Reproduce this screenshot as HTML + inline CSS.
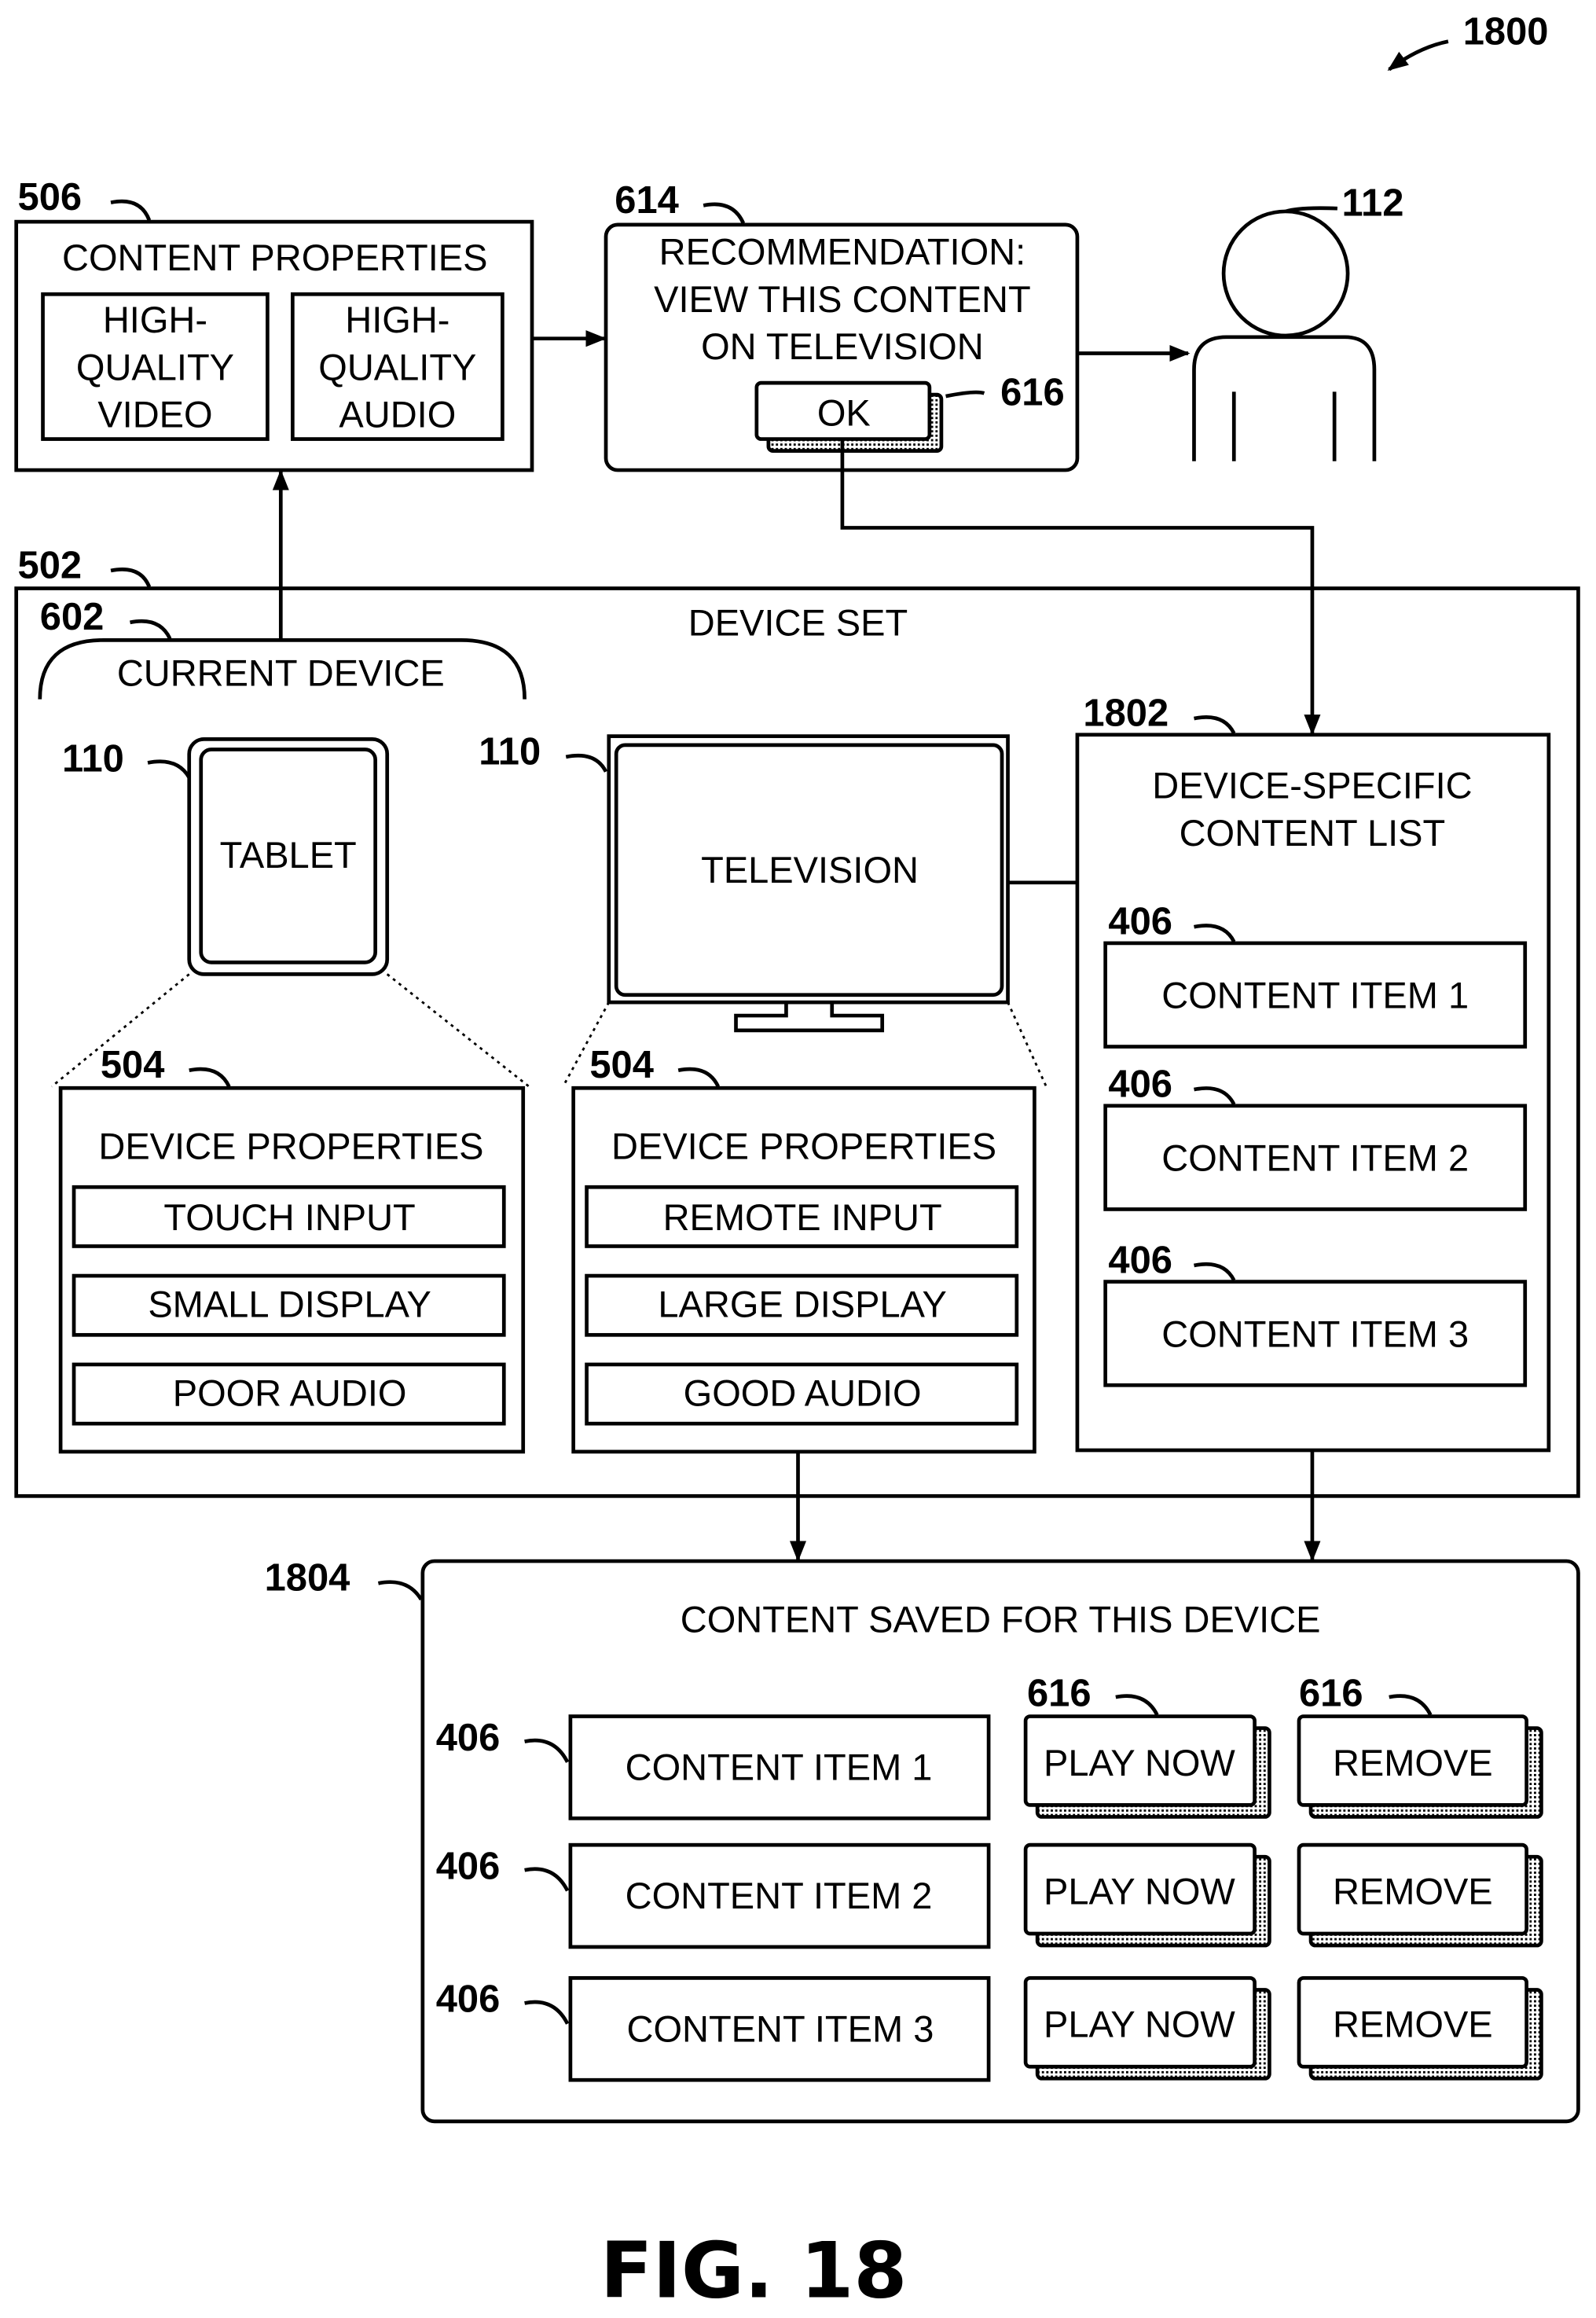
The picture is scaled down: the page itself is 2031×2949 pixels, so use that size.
<!DOCTYPE html>
<html><head><meta charset="utf-8"><style>html,body{margin:0;padding:0;background:#fff}svg{display:block}</style></head><body>
<svg width="2031" height="2949" viewBox="0 0 1080 1568" preserveAspectRatio="none" xmlns="http://www.w3.org/2000/svg" font-family="'Liberation Sans', 'DejaVu Sans', sans-serif">
<defs>
<marker id="ah" viewBox="0 0 10 10" refX="9" refY="5" markerWidth="14" markerHeight="14" markerUnits="userSpaceOnUse" orient="auto"><path d="M0,1 L10,5 L0,9 Z" fill="#000"/></marker>
<pattern id="dots" width="3" height="3" patternUnits="userSpaceOnUse"><rect width="3" height="3" fill="#fff"/><rect width="1.5" height="1.5" fill="#000"/></pattern>
</defs>
<g fill="none" stroke="#000" stroke-width="2.5">
<path d="M980,28 Q960,32 940,47" marker-end="url(#ah)"/>
<rect x="11" y="150" width="349" height="168"/>
<rect x="29" y="199" width="152" height="98"/>
<rect x="198" y="199" width="142" height="98"/>
<path d="M75,137 Q95,133 101,149"/>
<line x1="360" y1="229" x2="409" y2="229" marker-end="url(#ah)"/>
<rect x="410" y="152" width="319" height="166" rx="8"/>
<path d="M476,139 Q496,135 503,151"/>
<rect x="520" y="267" width="117" height="38" rx="3" fill="url(#dots)"/>
<rect x="512" y="259" width="117" height="38" rx="3" fill="#fff"/>
<path d="M640,268 Q660,264 666,266"/>
<line x1="729" y1="239" x2="804" y2="239" marker-end="url(#ah)"/>
<circle cx="870" cy="185" r="42"/>
<path d="M808,312 L808,250 Q808,228 830,228 L910,228 Q930,228 930,250 L930,312"/>
<path d="M835,312 L835,265 M903,312 L903,265"/>
<path d="M870,143 Q880,140 905,141"/>
<path d="M570,297 L570,357 L888,357 L888,496" marker-end="url(#ah)"/>
<line x1="190" y1="432" x2="190" y2="319" marker-end="url(#ah)"/>
<rect x="11" y="398" width="1057" height="614"/>
<path d="M75,386 Q95,382 101,397"/>
<path d="M88,421 Q108,417 115,432"/>
<path d="M27,473 Q27,433 70,433 L312,433 Q355,433 355,473"/>
<rect x="128" y="500" width="134" height="159" rx="10"/>
<rect x="136" y="507" width="118" height="144" rx="7"/>
<path d="M100,516 Q120,512 128,526"/>
<rect x="412" y="498" width="270" height="180"/>
<rect x="417" y="504" width="261" height="169" rx="6"/>
<path d="M532,678 L532,687 L498,687 L498,697 L597,697 L597,687 L563,687 L563,678"/>
<path d="M383,512 Q403,508 410,522"/>
<line x1="682" y1="597" x2="729" y2="597"/>
<rect x="729" y="497" width="319" height="484"/>
<path d="M808,486 Q828,482 835,496"/>
<rect x="748" y="638" width="284" height="70"/>
<rect x="748" y="748" width="284" height="70"/>
<rect x="748" y="867" width="284" height="70"/>
<path d="M808,627 Q828,623 835,637"/>
<path d="M808,737 Q828,733 835,747"/>
<path d="M808,856 Q828,852 835,866"/>
<g stroke-dasharray="2,3" stroke-width="1.5">
<line x1="128" y1="659" x2="35" y2="735"/><line x1="262" y1="659" x2="358" y2="735"/>
<line x1="412" y1="678" x2="381" y2="735"/><line x1="682" y1="678" x2="708" y2="735"/>
</g>
<rect x="41" y="736" width="313" height="246"/>
<rect x="388" y="736" width="312" height="246"/>
<path d="M128,724 Q148,720 155,735"/>
<path d="M459,724 Q479,720 486,735"/>
<rect x="50" y="803" width="291" height="40"/><rect x="50" y="863" width="291" height="40"/><rect x="50" y="923" width="291" height="40"/>
<rect x="397" y="803" width="291" height="40"/><rect x="397" y="863" width="291" height="40"/><rect x="397" y="923" width="291" height="40"/>
<line x1="540" y1="982" x2="540" y2="1055" marker-end="url(#ah)"/>
<line x1="888" y1="981" x2="888" y2="1055" marker-end="url(#ah)"/>
<rect x="286" y="1056" width="782" height="379" rx="8"/>
<path d="M256,1071 Q276,1067 285,1082"/>
<rect x="386" y="1161" width="283" height="69"/>
<rect x="386" y="1248" width="283" height="69"/>
<rect x="386" y="1338" width="283" height="69"/>
<path d="M355,1178 Q375,1174 384,1192"/>
<path d="M355,1265 Q375,1261 384,1279"/>
<path d="M355,1355 Q375,1351 384,1369"/>
<g>
<rect x="702" y="1169" width="157" height="60" rx="3" fill="url(#dots)"/><rect x="694" y="1161" width="155" height="60" rx="3" fill="#fff"/>
<rect x="887" y="1169" width="156" height="60" rx="3" fill="url(#dots)"/><rect x="879" y="1161" width="154" height="60" rx="3" fill="#fff"/>
<rect x="702" y="1256" width="157" height="60" rx="3" fill="url(#dots)"/><rect x="694" y="1248" width="155" height="60" rx="3" fill="#fff"/>
<rect x="887" y="1256" width="156" height="60" rx="3" fill="url(#dots)"/><rect x="879" y="1248" width="154" height="60" rx="3" fill="#fff"/>
<rect x="702" y="1346" width="157" height="60" rx="3" fill="url(#dots)"/><rect x="694" y="1338" width="155" height="60" rx="3" fill="#fff"/>
<rect x="887" y="1346" width="156" height="60" rx="3" fill="url(#dots)"/><rect x="879" y="1338" width="154" height="60" rx="3" fill="#fff"/>
</g>
<path d="M755,1148 Q775,1144 783,1160"/>
<path d="M940,1148 Q960,1144 968,1160"/>
</g>
<g font-weight="bold" font-size="26" fill="#000">
<text x="990" y="30">1800</text>
<text x="12" y="142">506</text>
<text x="416" y="144">614</text>
<text x="677" y="274">616</text>
<text x="908" y="146">112</text>
<text x="12" y="391">502</text>
<text x="27" y="426">602</text>
<text x="42" y="522">110</text>
<text x="324" y="517">110</text>
<text x="733" y="491">1802</text>
<text x="750" y="632">406</text>
<text x="750" y="742">406</text>
<text x="750" y="861">406</text>
<text x="68" y="729">504</text>
<text x="399" y="729">504</text>
<text x="179" y="1076">1804</text>
<text x="295" y="1184">406</text>
<text x="295" y="1271">406</text>
<text x="295" y="1361">406</text>
<text x="695" y="1154">616</text>
<text x="879" y="1154">616</text>
<text x="510" y="1554" font-size="52" text-anchor="middle" font-family="'DejaVu Sans','Liberation Sans',sans-serif">FIG. 18</text>
</g>
<g font-size="25" fill="#000" text-anchor="middle">
<text x="186" y="183">CONTENT PROPERTIES</text>
<text x="105" y="225">HIGH-</text><text x="105" y="257">QUALITY</text><text x="105" y="289">VIDEO</text>
<text x="269" y="225">HIGH-</text><text x="269" y="257">QUALITY</text><text x="269" y="289">AUDIO</text>
<text x="570" y="179">RECOMMENDATION:</text>
<text x="570" y="211">VIEW THIS CONTENT</text>
<text x="570" y="243">ON TELEVISION</text>
<text x="571" y="288">OK</text>
<text x="540" y="430">DEVICE SET</text>
<text x="190" y="464">CURRENT DEVICE</text>
<text x="195" y="587">TABLET</text>
<text x="548" y="597">TELEVISION</text>
<text x="888" y="540">DEVICE-SPECIFIC</text>
<text x="888" y="572">CONTENT LIST</text>
<text x="890" y="682">CONTENT ITEM 1</text>
<text x="890" y="792">CONTENT ITEM 2</text>
<text x="890" y="911">CONTENT ITEM 3</text>
<text x="197" y="784">DEVICE PROPERTIES</text>
<text x="544" y="784">DEVICE PROPERTIES</text>
<text x="196" y="832">TOUCH INPUT</text>
<text x="196" y="891">SMALL DISPLAY</text>
<text x="196" y="951">POOR AUDIO</text>
<text x="543" y="832">REMOTE INPUT</text>
<text x="543" y="891">LARGE DISPLAY</text>
<text x="543" y="951">GOOD AUDIO</text>
<text x="677" y="1104">CONTENT SAVED FOR THIS DEVICE</text>
<text x="527" y="1204">CONTENT ITEM 1</text>
<text x="527" y="1291">CONTENT ITEM 2</text>
<text x="528" y="1381">CONTENT ITEM 3</text>
<text x="771" y="1201">PLAY NOW</text><text x="956" y="1201">REMOVE</text>
<text x="771" y="1288">PLAY NOW</text><text x="956" y="1288">REMOVE</text>
<text x="771" y="1378">PLAY NOW</text><text x="956" y="1378">REMOVE</text>
</g>
</svg>
</body></html>
